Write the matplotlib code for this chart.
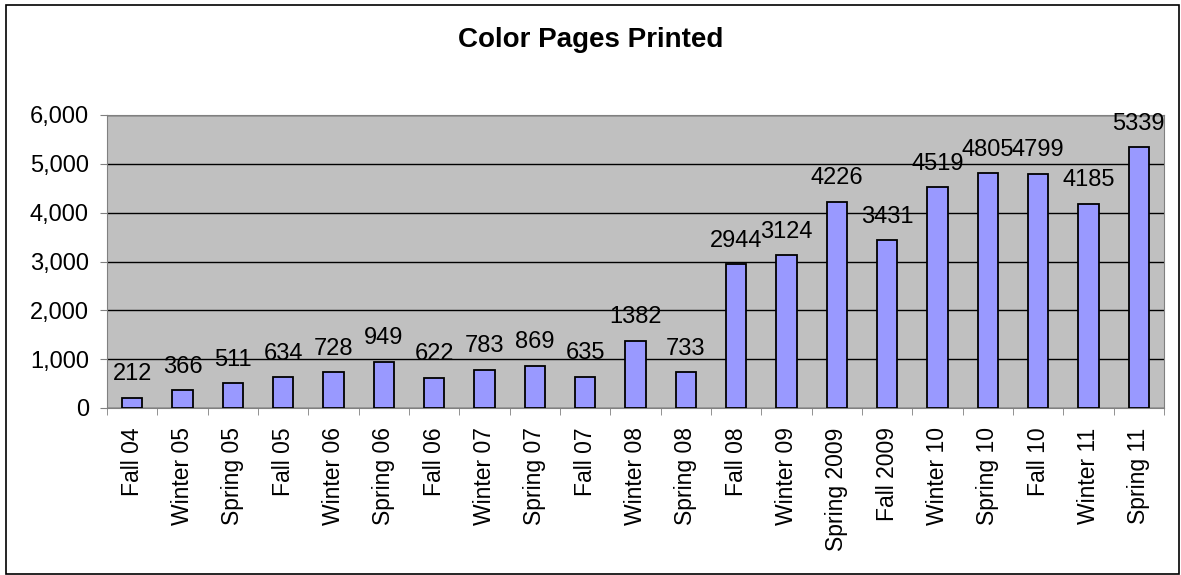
import matplotlib.pyplot as plt
from matplotlib.ticker import FuncFormatter

plt.rcParams['font.family'] = ['Liberation Sans', 'DejaVu Sans']

terms = ['Fall 04', 'Winter 05', 'Spring 05', 'Fall 05', 'Winter 06', 'Spring 06',
         'Fall 06', 'Winter 07', 'Spring 07', 'Fall 07', 'Winter 08', 'Spring 08',
         'Fall 08', 'Winter 09', 'Spring 2009', 'Fall 2009', 'Winter 10', 'Spring 10',
         'Fall 10', 'Winter 11', 'Spring 11']
pages = [212, 366, 511, 634, 728, 949, 622, 783, 869, 635, 1382, 733,
         2944, 3124, 4226, 3431, 4519, 4805, 4799, 4185, 5339]

fig = plt.figure(figsize=(11.81, 5.75), dpi=100)
ax = fig.add_axes([107/1181, 1 - 408/575, (1164-107)/1181, (408-115)/575])

x = range(len(terms))
bars = ax.bar(x, pages, width=0.4, color='#9999FF', edgecolor='black', linewidth=1.3, zorder=3)

ax.set_facecolor('#C0C0C0')
ax.set_xlim(-0.5, len(terms) - 0.5)
ax.set_ylim(0, 6000)
ax.set_yticks(range(0, 6001, 1000))
ax.yaxis.set_major_formatter(FuncFormatter(lambda v, p: f'{int(v):,}'))
ax.grid(axis='y', color='black', linewidth=1, zorder=1)

for s in ['top', 'right', 'left', 'bottom']:
    ax.spines[s].set_color('#808080')

ax.set_xticks(x)
ax.set_xticklabels(terms, rotation=90, fontsize=16.5)
ax.tick_params(axis='x', length=0, pad=14)
ax.set_xticks([i + 0.5 for i in range(-1, len(terms))], minor=True)
ax.tick_params(axis='x', which='minor', length=5, color='#808080')
ax.tick_params(axis='y', labelsize=17, length=5, color='#808080', pad=8)

for b, v in zip(bars, pages):
    ax.annotate(str(v), (b.get_x() + b.get_width() / 2, v), xytext=(0, 9),
                textcoords='offset points', ha='center', va='bottom', fontsize=17)

fig.text(0.5, 1 - 40/575, 'Color Pages Printed', ha='center', va='center',
         fontsize=20, fontweight='bold')

fig.patches.append(plt.Rectangle((6/1181, 0.002), 1 - 8/1181, 1 - 6/575, fill=False,
                                 edgecolor='black', linewidth=1.2, transform=fig.transFigure))

fig.savefig('out.png', dpi=100)
